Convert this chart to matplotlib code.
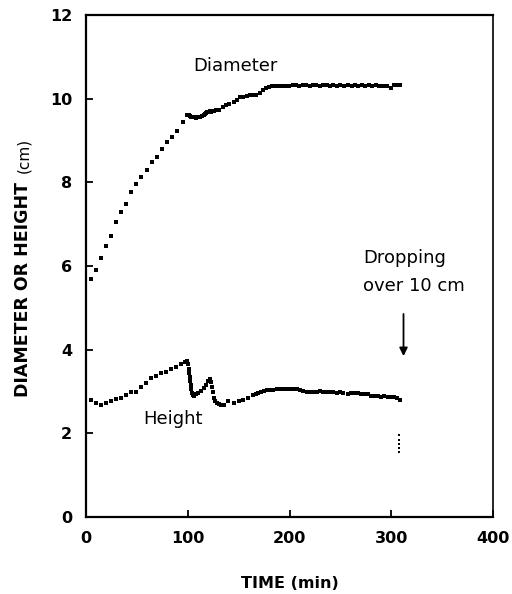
import matplotlib
matplotlib.use("Agg")
import matplotlib.pyplot as plt

# diameter of the sample (cm) vs time (min)
diam_t = [4.5, 9.5, 14.5, 19.5, 24.5, 29.5, 34.5, 39.5, 44.5, 49.5,
          54.5, 59.5, 64.5, 69.5, 74.5, 79.5, 84.5, 89.5, 95, 99.5,
          101, 102, 103, 104, 105, 106, 108, 110, 112, 114,
          116, 117, 118, 119, 120, 121, 122, 123, 124, 126,
          128, 131, 135, 138, 141, 145, 148, 151, 154, 158,
          161, 164, 167, 171, 174, 177, 180,
          183, 186, 189, 193, 196, 199, 203, 206, 209, 213,
          216, 220, 223, 226, 230, 233, 237, 240, 243, 247,
          250, 254, 257, 261, 264, 267, 271, 274, 278, 281,
          285, 288, 292, 296, 300, 303, 306, 309]
diam = [5.68, 5.90, 6.18, 6.49, 6.72, 7.06, 7.30, 7.49, 7.76, 7.95,
        8.14, 8.30, 8.48, 8.60, 8.80, 8.96, 9.08, 9.23, 9.44, 9.61,
        9.60, 9.58, 9.57, 9.57, 9.56, 9.56, 9.55, 9.56, 9.56, 9.58,
        9.62, 9.64, 9.66, 9.67, 9.68, 9.68, 9.70, 9.69, 9.70, 9.71,
        9.72, 9.74, 9.80, 9.84, 9.88, 9.93, 9.98, 10.03, 10.05, 10.07,
        10.08, 10.09, 10.10, 10.14, 10.20, 10.26, 10.29,
        10.30, 10.30, 10.30, 10.30, 10.31, 10.31, 10.33, 10.32, 10.31, 10.33,
        10.32, 10.30, 10.33, 10.32, 10.31, 10.33, 10.33, 10.30, 10.32, 10.31,
        10.33, 10.30, 10.32, 10.31, 10.33, 10.30, 10.32, 10.31, 10.33, 10.30,
        10.32, 10.31, 10.30, 10.31, 10.26, 10.32, 10.32, 10.32]

# height of the sample (cm) vs time (min)
height_t = [4.6, 9.5, 14.4, 19.4, 24.3, 29.2, 34.1, 39.0, 43.9, 48.8,
            53.8, 58.7, 63.6, 68.5, 73.4, 78.3, 83.3, 88.2, 93.1, 97, 99.6,
            100.5, 101, 101.5, 102, 102.5, 103, 103.5, 104, 105, 106.5,
            108, 110.5, 113, 115.5, 118, 120, 121.5, 123, 124, 125,
            126, 127, 129, 131, 133, 136, 140, 145, 150, 154.5,
            159.5, 164.5, 167, 169.5, 172, 174.5, 178, 181, 184, 187.5,
            191, 194, 197, 200.5, 204, 207, 210.5, 213.5, 217, 220,
            223, 227, 230, 233, 237, 240, 243, 247, 250, 253,
            257, 260, 263, 267, 270, 273, 277, 280, 283, 287,
            290, 293, 297, 300, 303, 306, 309]
height = [2.80, 2.73, 2.67, 2.72, 2.77, 2.81, 2.85, 2.92, 2.98, 3.00,
          3.12, 3.21, 3.33, 3.37, 3.44, 3.47, 3.53, 3.59, 3.65, 3.70, 3.73,
          3.66, 3.55, 3.45, 3.35, 3.25, 3.15, 3.05, 2.97, 2.92, 2.90,
          2.93, 2.96, 3.02, 3.08, 3.16, 3.26, 3.30, 3.22, 3.10, 2.98,
          2.85, 2.78, 2.72, 2.70, 2.68, 2.68, 2.77, 2.72, 2.77, 2.80,
          2.84, 2.92, 2.95, 2.96, 3.00, 3.02, 3.03, 3.04, 3.04, 3.05,
          3.06, 3.06, 3.06, 3.05, 3.05, 3.05, 3.03, 3.02, 3.00, 3.00,
          3.00, 3.00, 3.01, 2.99, 2.98, 2.98, 2.98, 2.96, 2.98, 2.96,
          2.95, 2.96, 2.96, 2.96, 2.95, 2.93, 2.93, 2.90, 2.90, 2.89,
          2.88, 2.89, 2.88, 2.87, 2.86, 2.85, 2.79]

# height readings after the 10 cm drop
drop_t = [308, 308, 308, 308, 308]
drop_h = [1.95, 1.85, 1.75, 1.65, 1.55]

fig = plt.figure(figsize=(5.12, 5.94), dpi=100)
ax = fig.add_axes([0.168, 0.1296, 0.795, 0.8451])

ax.plot(diam_t, diam, "s", color="black", markersize=2.5, markeredgewidth=0)
ax.plot(height_t, height, "s", color="black", markersize=2.5, markeredgewidth=0)
ax.plot(drop_t, drop_h, "s", color="black", markersize=2.0, markeredgewidth=0)

ax.annotate("", xy=(312, 3.78), xytext=(312, 4.92),
            arrowprops=dict(arrowstyle="-|>", color="black", lw=1.3,
                            mutation_scale=12))

font = {"family": "DejaVu Sans", "size": 13}
ax.text(105, 10.78, "Diameter", va="center", ha="left", **font)
ax.text(56, 2.34, "Height", va="center", ha="left", **font)
ax.text(272, 6.18, "Dropping", va="center", ha="left", **font)
ax.text(272, 5.52, "over 10 cm", va="center", ha="left", **font)

ax.set_xlim(0, 400)
ax.set_ylim(0, 12)
ax.set_xticks([0, 100, 200, 300, 400])
ax.set_yticks([0, 2, 4, 6, 8, 10, 12])
ax.tick_params(direction="in", length=5, width=1.3, pad=10, labelsize=11.5)
for lab in ax.get_xticklabels() + ax.get_yticklabels():
    lab.set_fontweight("bold")
for s in ["left", "bottom", "top"]:
    ax.spines[s].set_linewidth(1.6)
ax.spines["right"].set_linewidth(1.2)

ax.set_xlabel("TIME (min)", fontsize=11.5, fontweight="bold", labelpad=22)

# y label: bold words, plain unit, sharing one baseline
fig.text(28 / 512, 1 - 397 / 594, "DIAMETER OR HEIGHT", rotation=90,
         rotation_mode="anchor", ha="left", va="baseline",
         fontsize=12.5, fontweight="bold")
fig.text(28 / 512, 1 - 173 / 594, "(cm)", rotation=90,
         rotation_mode="anchor", ha="left", va="baseline", fontsize=11)

fig.savefig("out.png", dpi=100)
